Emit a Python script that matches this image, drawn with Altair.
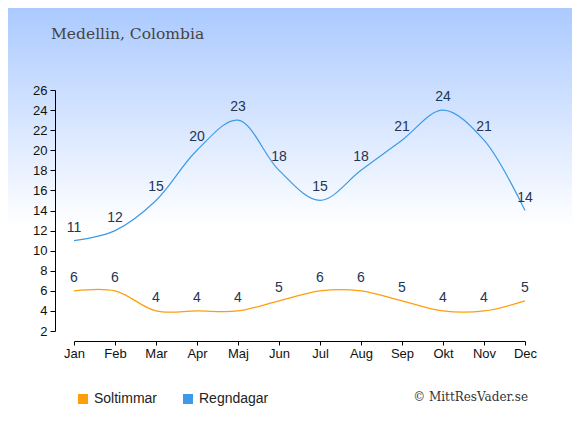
import altair as alt
import pandas as pd

months = ["Jan", "Feb", "Mar", "Apr", "Maj", "Jun", "Jul", "Aug", "Sep", "Okt", "Nov", "Dec"]
soltimmar = [6, 6, 4, 4, 4, 5, 6, 6, 5, 4, 4, 5]
regndagar = [11, 12, 15, 20, 23, 18, 15, 18, 21, 24, 21, 14]
series_names = ["Soltimmar", "Regndagar"]
series_colors = ["#ff9d0a", "#3d9ae8"]
y_ticks = list(range(2, 27, 2))

rows = []
for i, m in enumerate(months):
    rows.append({"month": m, "series": "Soltimmar", "value": soltimmar[i]})
    rows.append({"month": m, "series": "Regndagar", "value": regndagar[i]})
df = pd.DataFrame(rows)

W, H = 451, 241
PL, PT = 66, 82
TOTW, TOTH = 564, 419
PR = TOTW - PL - W
PB = TOTH - PT - H

bg = alt.Chart(pd.DataFrame({"a": [0]})).mark_rect(
    color=alt.Gradient(
        gradient="linear",
        stops=[
            alt.GradientStop(offset=0, color="#a8c8ff"),
            alt.GradientStop(offset=0.52, color="#ffffff"),
            alt.GradientStop(offset=1, color="#ffffff"),
        ],
        x1=0, x2=0, y1=0, y2=1,
    ),
).encode(
    x=alt.value(-PL - 8),
    x2=alt.value(W + PR + 8),
    y=alt.value(-PT - 8),
    y2=alt.value(H + PB + 8),
)

x_axis = alt.Axis(
    title=None, offset=10, tickSize=4, labelPadding=2, labelAngle=0,
    domainColor="#000", tickColor="#000", labelColor="#111",
    labelFont="Liberation Sans", labelFontSize=13, zindex=2,
    labelOverlap=False,
)
y_axis = alt.Axis(
    title=None, offset=19, values=y_ticks, tickSize=5, labelPadding=3,
    domainColor="#000", tickColor="#000", labelColor="#111",
    labelFont="Liberation Sans", labelFontSize=13, grid=False, zindex=2,
    labelOverlap=False,
)
x_scale = alt.Scale(type="point", domain=months, padding=0)
y_scale = alt.Scale(domain=[2, 26], nice=False, zero=False)

color_enc = alt.Color(
    "series:N",
    scale=alt.Scale(domain=series_names, range=series_colors),
    legend=alt.Legend(
        title=None, orient="none", legendX=2, legendY=302, direction="horizontal",
        symbolType="square", symbolSize=4, symbolStrokeWidth=8,
        labelFont="Liberation Sans", labelFontSize=14, labelColor="#222",
        labelOffset=4, columnPadding=13, zindex=2,
    ),
)

lines = alt.Chart(df).mark_line(interpolate="catmull-rom", strokeWidth=1.2).encode(
    x=alt.X("month:N", sort=months, scale=x_scale, axis=x_axis),
    y=alt.Y("value:Q", scale=y_scale, axis=y_axis),
    color=color_enc,
    detail="series:N",
)

labels = alt.Chart(df).mark_text(
    dy=-13, font="Liberation Sans", fontSize=14, color="#233554"
).encode(
    x=alt.X("month:N", sort=months, scale=x_scale, axis=x_axis),
    y=alt.Y("value:Q", scale=y_scale, axis=y_axis),
    text="value:Q",
)

title = alt.Chart(pd.DataFrame({"t": ["Medellin, Colombia"]})).mark_text(
    align="left", baseline="alphabetic", font="DejaVu Serif", fontSize=15.5, color="#444444"
).encode(x=alt.value(-23), y=alt.value(-51), text="t:N")

credit = alt.Chart(pd.DataFrame({"t": ["© MittResVader.se"]})).mark_text(
    align="right", baseline="middle", font="DejaVu Serif", fontSize=12, color="#333333"
).encode(x=alt.value(454), y=alt.value(307), text="t:N")

chart = alt.layer(bg, lines, labels, title, credit).properties(
    width=W, height=H,
    autosize=alt.AutoSizeParams(type="none"),
    padding={"left": PL, "top": PT, "right": PR, "bottom": PB},
).configure_view(stroke=None).configure(background="#ffffff")

chart.save("out.html", embed_options={"renderer": "svg", "actions": False})
